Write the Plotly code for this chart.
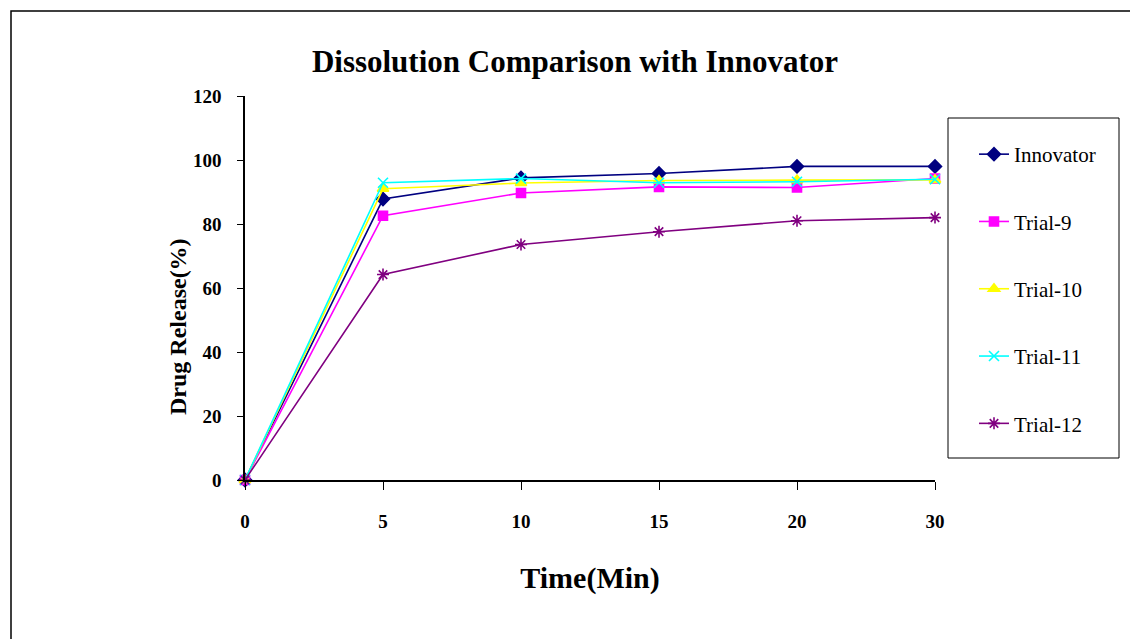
import plotly.graph_objects as go

times = ["0", "5", "10", "15", "20", "30"]
innovator = [0, 87.8, 94.4, 95.8, 98.0, 98.0]
trial9 = [0, 82.6, 89.7, 91.6, 91.4, 94.2]
trial10 = [0, 91.0, 92.8, 93.6, 93.7, 93.8]
trial11 = [0, 92.9, 94.2, 92.9, 93.2, 94.0]
trial12 = [0, 64.2, 73.6, 77.6, 81.0, 82.0]

series = [
    ("Innovator", innovator, "#000080", "diamond", 10),
    ("Trial-9", trial9, "#FF00FF", "square", 9),
    ("Trial-10", trial10, "#FFFF00", "triangle-up", 10),
    ("Trial-11", trial11, "#00FFFF", "x-thin", 10),
    ("Trial-12", trial12, "#800080", "asterisk", 10),
]

serif = "Liberation Serif"
fig = go.Figure()
for i, (name, vals, col, sym, sz) in enumerate(series):
    fig.add_trace(go.Scatter(
        x=times, y=vals, name=name, mode="lines+markers",
        line=dict(color=col, width=1.6),
        marker=dict(symbol=sym, size=sz, color=col,
                    line=dict(color=col, width=1.6)),
        cliponaxis=False, legendgroup=name,
    ))

fig.update_layout(
    width=1130, height=639,
    margin=dict(l=245, r=195, t=96, b=159),
    paper_bgcolor="white", plot_bgcolor="white",
    title=dict(text="<b>Dissolution Comparison with Innovator</b>",
               font=dict(family=serif, size=31, color="black"),
               x=(245 + 330) / 1130, xanchor="center", y=1 - 61 / 639, yanchor="middle"),
    xaxis=dict(type="category", range=[0, 5], showgrid=False,
               showline=True, linecolor="black", linewidth=1.5,
               ticks="outside", ticklen=8, tickcolor="black",
               tickfont=dict(family=serif, size=19, color="black", weight="bold"),
               ticklabelstandoff=15,
               title=dict(text="<b>Time(Min)</b>", font=dict(family=serif, size=30, color="black"),
                          standoff=36)),
    yaxis=dict(range=[0, 120], dtick=20, showgrid=False, zeroline=False,
               showline=True, linecolor="black", linewidth=1.5,
               ticks="outside", ticklen=6, tickcolor="black",
               tickfont=dict(family=serif, size=19, color="black", weight="bold"),
               ticklabelstandoff=12),
    legend=dict(x=(974 - 245) / 690, y=(480 - 134) / 384, xanchor="left", yanchor="top",
                borderwidth=0, bgcolor="rgba(0,0,0,0)",
                font=dict(family=serif, size=21, color="black"),
                tracegroupgap=37),
    showlegend=True,
)

fig.add_annotation(text="<b>Drug Release(%)</b>", textangle=-90,
                   xref="paper", yref="paper",
                   x=(178 - 245) / 690, y=(480 - 327) / 384,
                   xanchor="center", yanchor="middle", showarrow=False,
                   font=dict(family=serif, size=24, color="black"))

fig.add_shape(type="rect", xref="paper", yref="paper",
              x0=(11 - 245) / 690, x1=(1140 - 245) / 690,
              y0=(480 - 650) / 384, y1=(480 - 11) / 384,
              line=dict(color="black", width=1.5), fillcolor="rgba(0,0,0,0)", layer="below")

fig.add_shape(type="rect", xref="paper", yref="paper",
              x0=(948 - 245) / 690, x1=(1119 - 245) / 690,
              y0=(480 - 458) / 384, y1=(480 - 118) / 384,
              line=dict(color="black", width=1), fillcolor="white", layer="below")

fig.write_html("out.html")
